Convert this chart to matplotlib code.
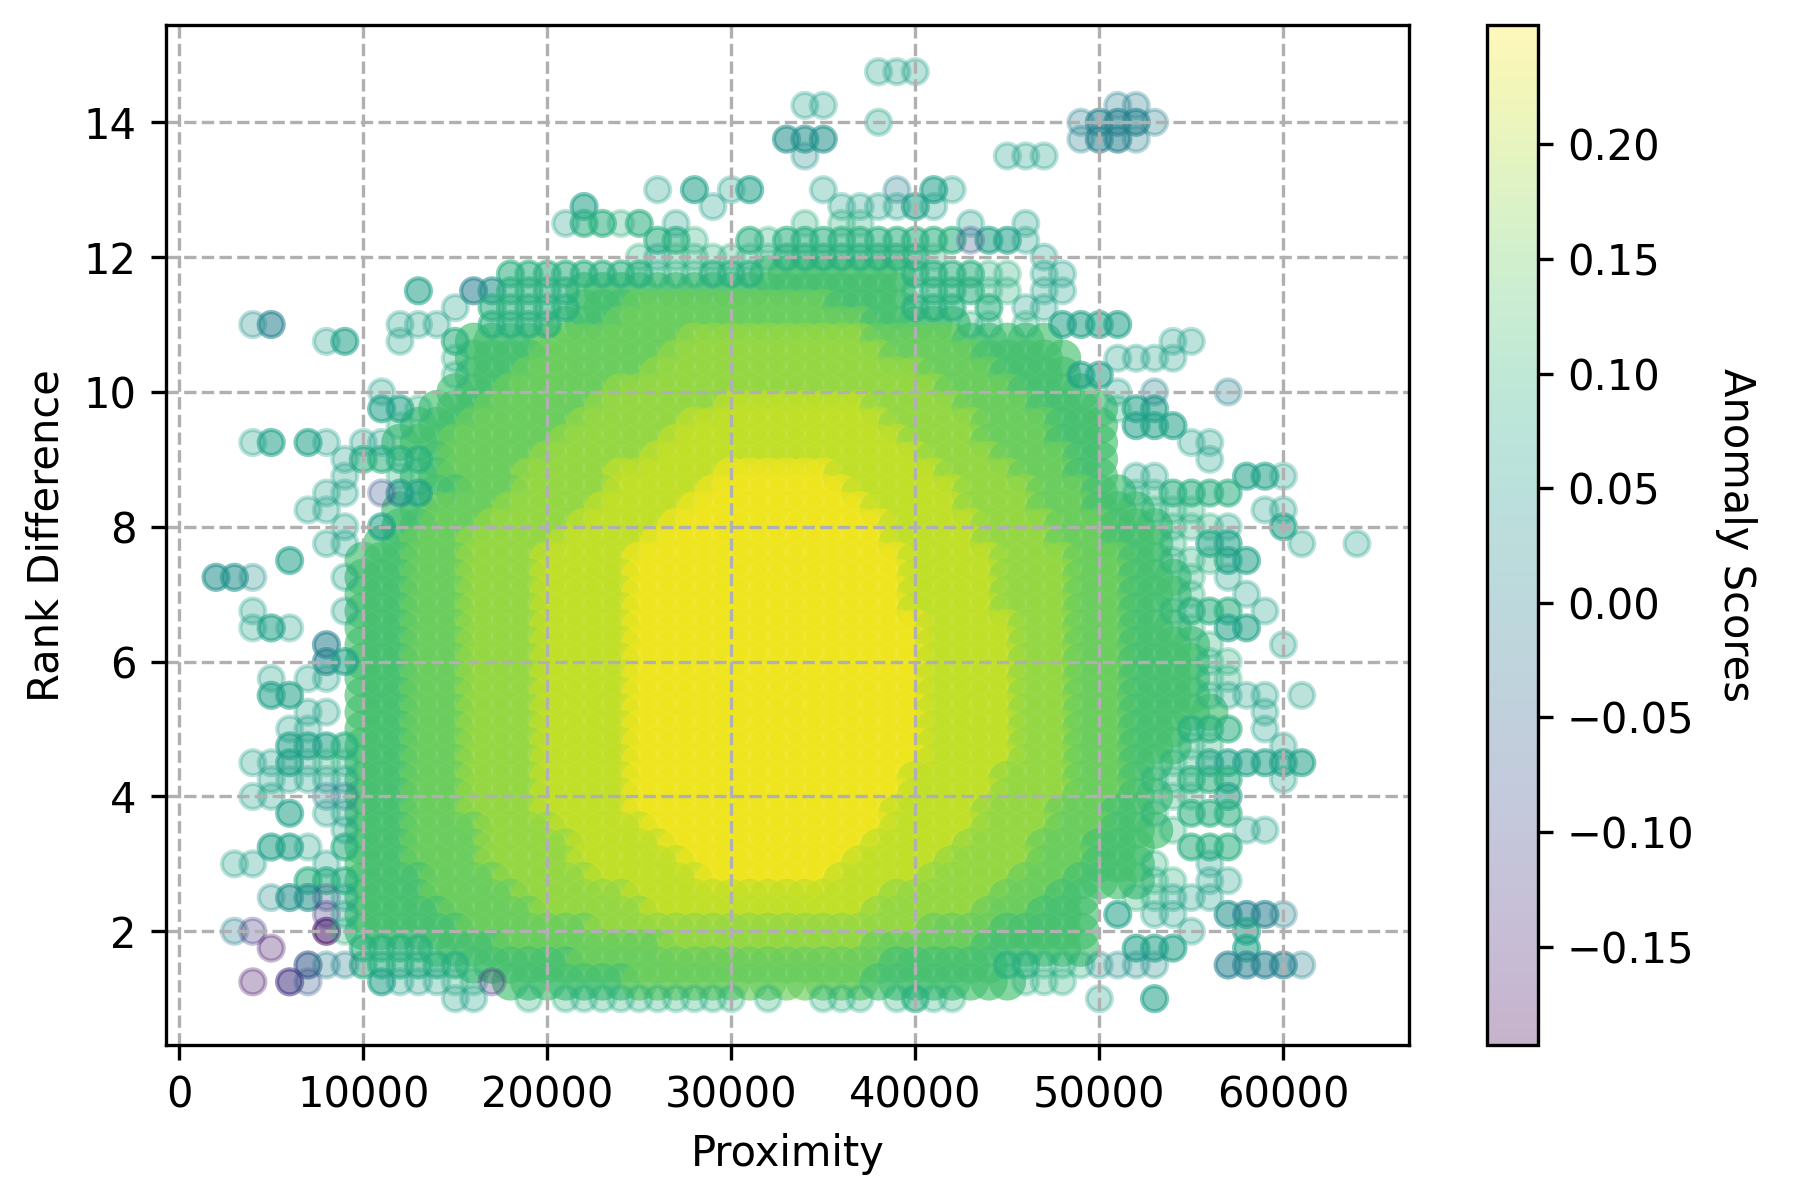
import matplotlib
matplotlib.use('Agg')
import matplotlib.pyplot as plt

# anomaly score for each letter code
score_levels = [-0.17, -0.12, -0.07, -0.03, 0.00, 0.03, 0.06, 0.09, 0.12, 0.15, 0.18, 0.21, 0.24]
level_codes = "abcdefghijklm"
# lowercase = a lone pale point, uppercase = a dense pile of points
# each row: rank difference -> [(proximity in thousands of the first mark, codes), ...]

upper_rows = {
    14.75: [(38, "ggg")],
    14.25: [(34, "gg"), (51, "ee")],
    14.0: [(38, "g"), (49, "eEEEe")],
    13.75: [(33, "FFF"), (49, "eEEe")],
    13.5: [(34, "f"), (45, "ggg")],
    13.0: [(26, "g"), (28, "G"), (30, "gG"), (35, "g"), (39, "e"), (41, "Gg")],
    12.75: [(22, "G"), (29, "g"), (36, "ggg"), (39, "gGg")],
    12.5: [(21, "gHHhH"), (27, "g"), (34, "h"), (36, "hh"), (43, "g"), (46, "g")],
    12.25: [(26, "HHh"), (31, "HhHHHHHHHHHH"), (43, "c"), (44, "GGg")],
    12.0: [(25, "hghhhhhh"), (33, "HHHHHHHH"), (41, "h"), (47, "g")],
    11.75: [(18, "HHHHHHHH"), (26, "hhh"), (29, "HHH"), (32, "IIIIIIII"), (40, "HHHH"), (44, "hh"), (47, "gg")],
    11.5: [(13, "G"), (16, "EF"), (18, "HHHH"), (22, "IIIIIIIII"), (31, "IIIIIIIII"), (40, "h"), (41, "HHH"),
           (44, "hh"), (47, "gg")],
    11.25: [(15, "g"), (17, "HHHHH"), (22, "III"), (25, "JJJJJJJJJJJ"), (36, "IIII"), (40, "HHH"), (44, "H"), (46, "gg")],
    11.0: [(4, "f"), (5, "E"), (12, "ggg"), (17, "HHHH"), (21, "III"), (24, "JJJJJJJ"), (31, "JJJJJJJ"), (38, "IIIII"),
           (43, "hh"), (46, "h"), (48, "GGGG")],
    10.75: [(8, "g"), (9, "G"), (12, "g"), (15, "H"), (16, "IIII"), (20, "JJJJJJJJ"), (28, "KKKKKKKKKK"), (38, "JJJJJ"),
            (43, "IIIII"), (54, "gg")],
    10.5: [(15, "h"), (16, "IIII"), (20, "JJJJJJJ"), (27, "KKKKKKKKKKKK"), (39, "JJJJJ"), (44, "IIIII"), (51, "gggg")],
    10.25: [(15, "h"), (16, "III"), (19, "JJJJJJJ"), (26, "KKKKKKKKKKKKKKK"), (41, "JJJJ"), (45, "IIII"), (49, "GG")],
    10.0: [(11, "g"), (15, "III"), (18, "JJJJJJ"), (24, "KKKKKKKKKKKKKKKKKK"), (42, "JJJJ"), (46, "IIII"), (51, "g"),
           (53, "e"), (57, "e")],
}

middle_rows = {
    9.75: [(11, "GGh"), (14, "III"), (17, "JJJJJJ"), (23, "KKKKKKK"), (30, "LLLLLLLL"), (38, "KKKKK"), (43, "JJJJ"),
           (47, "IIII"), (51, "hGG")],
    9.5: [(12, "h"), (13, "III"), (16, "JJJJJJ"), (22, "KKKKKK"), (28, "LLLLLLLLLLL"), (39, "KKKKK"), (44, "JJJJ"),
          (48, "III"), (52, "GGG")],
    9.25: [(4, "g"), (5, "G"), (7, "G"), (8, "g"), (10, "gg"), (12, "III"), (15, "JJJJJJ"), (21, "KKKKKK"),
           (27, "LLLLLLLLLLLLL"), (40, "KKKK"), (44, "JJJJ"), (48, "III"), (55, "gg")],
    9.0: [(9, "g"), (10, "HHHH"), (14, "I"), (15, "JJJJJ"), (20, "KKKKKK"), (26, "LLLLLLLLLLLLLLL"), (41, "KKKK"),
          (45, "JJJJ"), (49, "II"), (56, "g")],
    8.75: [(9, "g"), (12, "h"), (13, "II"), (15, "JJJJ"), (19, "KKKKK"), (24, "LLLLLL"), (30, "MMMMMM"), (36, "LLLLLL"),
           (42, "KKKK"), (46, "JJJ"), (49, "II"), (52, "gg"), (58, "GGg")],
    8.5: [(8, "gg"), (11, "c"), (12, "F"), (13, "G"), (14, "II"), (16, "JJJ"), (19, "KKKKK"), (24, "LLLLL"),
          (29, "MMMMMMMM"), (37, "LLLLLL"), (43, "KKKK"), (47, "JJJ"), (50, "II"), (52, "hh"), (54, "HHHH")],
    8.25: [(7, "gg"), (12, "II"), (14, "JJJJ"), (18, "KKKKK"), (23, "LLLLL"), (28, "MMMMMMMMMM"), (38, "LLLLL"),
           (43, "KKKK"), (47, "JJJ"), (50, "III"), (53, "hhh"), (59, "gg")],
    8.0: [(9, "g"), (11, "G"), (12, "II"), (14, "JJJ"), (17, "KKKKK"), (22, "LLLLL"), (27, "MMMMMMMMMMMM"),
          (39, "LLLLL"), (44, "KKKK"), (48, "JJJ"), (51, "III"), (54, "hhh"), (57, "g"), (60, "G")],
    7.75: [(8, "gg"), (11, "II"), (13, "JJJ"), (16, "KKKKK"), (21, "LLLLL"), (26, "MMMMMMMMMMMMM"), (39, "LLLLL"),
           (44, "KKKK"), (48, "JJJ"), (51, "III"), (54, "h"), (56, "GG"), (61, "g"), (64, "g")],
    7.5: [(6, "G"), (10, "III"), (13, "JJJ"), (16, "KKKK"), (20, "LLLLL"), (25, "MMMMMMMMMMMMMMM"), (40, "LLLLL"),
          (45, "KKKK"), (49, "JJJ"), (52, "II"), (54, "hh"), (56, "hGG")],
    7.25: [(2, "FFf"), (9, "g"), (10, "III"), (13, "JJJ"), (16, "KKKK"), (20, "LLLLL"), (25, "MMMMMMMMMMMMMMM"),
           (40, "LLLLL"), (45, "KKKK"), (49, "JJJ"), (52, "III"), (55, "h"), (57, "g")],
    7.0: [(10, "III"), (13, "JJJ"), (16, "KKKK"), (20, "LLLLL"), (25, "MMMMMMMMMMMMMMM"), (40, "LLLLL"), (45, "KKKK"),
          (49, "JJJ"), (52, "III"), (55, "h"), (58, "g")],
    6.75: [(4, "g"), (9, "g"), (10, "III"), (13, "JJJ"), (16, "KKKK"), (20, "LLLLL"), (25, "MMMMMMMMMMMMMMM"),
           (40, "LLLLL"), (45, "KKKK"), (49, "JJJ"), (52, "II"), (54, "h"), (55, "HHH"), (59, "g")],
    6.5: [(4, "gGg"), (10, "III"), (13, "JJJ"), (16, "KKKK"), (20, "LLLLL"), (25, "MMMMMMMMMMMMMMMM"), (41, "LLLLL"),
          (46, "KKK"), (49, "JJJ"), (52, "III"), (55, "h"), (57, "GG")],
    6.25: [(8, "E"), (10, "III"), (13, "JJJ"), (16, "KKKK"), (20, "LLLLL"), (25, "MMMMMMMMMMMMMMMM"), (41, "LLLLL"),
           (46, "KKK"), (49, "JJJ"), (52, "IIII"), (56, "h"), (60, "g")],
    6.0: [(8, "EG"), (10, "III"), (13, "JJJ"), (16, "KKKK"), (20, "LLLLL"), (25, "MMMMMMMMMMMMMMMM"), (41, "LLLLL"),
          (46, "KKK"), (49, "JJJ"), (52, "IIII"), (56, "hh")],
    5.75: [(5, "g"), (7, "gg"), (10, "III"), (13, "JJJ"), (16, "KKKK"), (20, "LLLLL"), (25, "MMMMMMMMMMMMMMMM"),
           (41, "LLLLL"), (46, "KKK"), (49, "JJJ"), (52, "IIII"), (56, "hh")],
    5.5: [(5, "GG"), (10, "III"), (13, "JJJ"), (16, "KKKK"), (20, "LLLLL"), (25, "MMMMMMMMMMMMMMMM"), (41, "LLLLL"),
          (46, "KKK"), (49, "JJJ"), (52, "IIII"), (56, "h"), (57, "ggg"), (61, "g")],
    5.25: [(7, "gg"), (10, "III"), (13, "JJJ"), (16, "KKKK"), (20, "LLLLL"), (25, "MMMMMMMMMMMMMMMM"), (41, "LLLLL"),
           (46, "KKK"), (49, "JJJ"), (52, "IIIII"), (59, "g")],
}

lower_rows = {
    5.0: [(6, "gg"), (10, "III"), (13, "JJJ"), (16, "KKKK"), (20, "LLLLL"), (25, "MMMMMMMMMMMMMMMM"), (41, "LLLLL"),
          (46, "KKK"), (49, "JJJ"), (52, "III"), (55, "HHH"), (59, "g")],
    4.75: [(6, "GGG"), (9, "H"), (10, "III"), (13, "JJJ"), (16, "KKKK"), (20, "LLLLL"), (25, "MMMMMMMMMMMMMMMM"),
           (41, "LLLLL"), (46, "KKK"), (49, "JJJ"), (52, "III"), (55, "hh"), (60, "g")],
    4.5: [(4, "ggGg"), (8, "hh"), (10, "III"), (13, "JJJ"), (16, "KKKK"), (20, "LLLLL"), (25, "MMMMMMMMMMMMMMMM"),
          (41, "LLLLL"), (46, "KKK"), (49, "JJJ"), (52, "II"), (54, "hh"), (56, "GGGGGG")],
    4.25: [(5, "ggggg"), (10, "III"), (13, "JJJ"), (16, "KKKK"), (20, "LLLLL"), (25, "MMMMMMMMMMMMMMM"), (40, "LLLLL"),
           (45, "KKKK"), (49, "JJJ"), (52, "I"), (53, "hh"), (55, "HHH"), (60, "g")],
    4.0: [(4, "gg"), (8, "ee"), (10, "III"), (13, "JJJ"), (16, "KKKK"), (20, "LLLLL"), (25, "MMMMMMMMMMMMMMM"),
          (40, "LLLLL"), (45, "KKKK"), (49, "JJJ"), (52, "II"), (54, "hh"), (57, "G")],
    3.75: [(6, "G"), (8, "gg"), (10, "III"), (13, "JJJ"), (16, "KKKK"), (20, "LLLLL"), (25, "MMMMMMMMMMMMMM"),
           (39, "LLLLL"), (44, "KKKK"), (48, "JJJ"), (51, "II"), (53, "h"), (55, "HHH")],
    3.5: [(9, "g"), (10, "III"), (13, "JJJJ"), (17, "KKKK"), (21, "LLLLL"), (26, "MMMMMMMMMMMMM"), (39, "LLLLL"),
          (44, "KKKK"), (48, "JJJ"), (51, "III"), (54, "h"), (58, "gg")],
    3.25: [(5, "GG"), (7, "g"), (9, "H"), (10, "III"), (13, "JJJJ"), (17, "KKKKK"), (22, "LLLLL"), (27, "MMMMMMMMMMM"),
           (38, "LLLLL"), (43, "KKKK"), (47, "JJJ"), (50, "III"), (55, "HHH")],
    3.0: [(3, "gg"), (8, "g"), (10, "III"), (13, "JJJJ"), (17, "KKKKK"), (22, "LLLLLL"), (28, "MMMMMMMMM"),
          (37, "LLLLL"), (42, "KKKKK"), (47, "JJJ"), (50, "III"), (53, "h"), (56, "g")],
    2.75: [(7, "HHH"), (10, "IIII"), (14, "JJJJ"), (18, "KKKKK"), (23, "LLLLLL"), (29, "MMMMMMM"), (36, "LLLLL"),
           (41, "KKKKK"), (46, "JJJ"), (49, "IIII"), (53, "hh"), (56, "gg")],
    2.5: [(5, "fFF"), (8, "c"), (9, "g"), (10, "IIII"), (14, "JJJJJ"), (19, "KKKKKK"), (25, "LLLLLLLLLLLLLL"),
          (39, "KKKKKK"), (45, "JJJ"), (48, "II"), (52, "hh"), (54, "ggg")],
    2.25: [(8, "b"), (9, "g"), (10, "IIIII"), (15, "JJJJJ"), (20, "KKKKKK"), (26, "LLLLLLLLLLLL"), (38, "KKKKKK"),
           (44, "JJJ"), (47, "III"), (51, "G"), (53, "gg"), (57, "FEEe")],
    2.0: [(3, "e"), (4, "b"), (8, "A"), (9, "h"), (10, "IIIIII"), (16, "JJJJJJJ"), (23, "KKKKKKKKKKKKKKKKKK"),
          (41, "JJJJ"), (45, "IIIII"), (55, "g"), (58, "G")],
    1.75: [(5, "a"), (10, "HHHH"), (14, "IIII"), (18, "JJJJJJJJJ"), (27, "KKKKKKKKKKK"), (38, "JJJJJJ"), (44, "IIIIII"),
           (52, "GGG"), (58, "G")],
    1.5: [(7, "Cee"), (10, "HHHHHH"), (16, "IIIIII"), (22, "JJJJJJJJJJJJJJJJJ"), (39, "IIIIII"), (45, "HH"),
          (47, "hhh"), (50, "ffff"), (57, "EEEEe")],
    1.25: [(4, "a"), (6, "Bc"), (11, "G"), (12, "ggg"), (15, "hh"), (17, "b"), (18, "IIIIIII"), (25, "JJJJJJJJJJJJJ"),
           (38, "IIIIIIII"), (46, "hhh")],
    1.0: [(15, "gg"), (19, "h"), (21, "hhhhhhhhhh"), (32, "h"), (35, "hhh"), (39, "hHhh"), (50, "g"), (53, "G")],
}

x_ticks = [0, 10000, 20000, 30000, 40000, 50000, 60000]
y_ticks = [2, 4, 6, 8, 10, 12, 14]
cbar_ticks = [-0.15, -0.10, -0.05, 0.00, 0.05, 0.10, 0.15, 0.20]
score_min, score_max = -0.193, 0.252


def unpack(row_sets):
    # lone points, piles at the edges, and the packed core (codes I and up)
    groups = {'lone': ([], [], []), 'pile': ([], [], []), 'core': ([], [], [])}
    for rows in row_sets:
        for y, segments in rows.items():
            for start, codes in segments:
                for i, ch in enumerate(codes):
                    level = level_codes.index(ch.lower())
                    if ch.islower():
                        key = 'lone'
                    elif level >= 8:
                        key = 'core'
                    else:
                        key = 'pile'
                    groups[key][0].append((start + i) * 1000)
                    groups[key][1].append(y)
                    groups[key][2].append(score_levels[level])
    return groups


groups = unpack([upper_rows, middle_rows, lower_rows])
lone, pile, core = groups['lone'], groups['pile'], groups['core']

fig = plt.figure(figsize=(6, 4), dpi=300)
ax = fig.add_axes([0.0922, 0.129, 0.6906, 0.850])
cax = fig.add_axes([0.826, 0.129, 0.0283, 0.850])

# wide, soft marks so the packed core blends like the thousands of points in the original
ax.scatter(core[0], core[1], c=core[2], cmap='viridis', vmin=score_min, vmax=score_max,
           s=81, linewidths=0, alpha=0.65)
ax.scatter(pile[0], pile[1], c=pile[2], cmap='viridis', vmin=score_min, vmax=score_max, alpha=0.55)
sc = ax.scatter(lone[0], lone[1], c=lone[2], cmap='viridis', vmin=score_min, vmax=score_max, alpha=0.3)

ax.set_xlim(-720, 66830)
ax.set_ylim(0.31, 15.44)
ax.set_xticks(x_ticks)
ax.set_yticks(y_ticks)
ax.set_xlabel("Proximity")
ax.set_ylabel("Rank Difference")
ax.grid(True, linestyle='--')

cbar = fig.colorbar(sc, cax=cax)
cbar.set_ticks(cbar_ticks)
cbar.set_label("Anomaly Scores", rotation=270, labelpad=15)

fig.savefig("out.png", dpi=300)
